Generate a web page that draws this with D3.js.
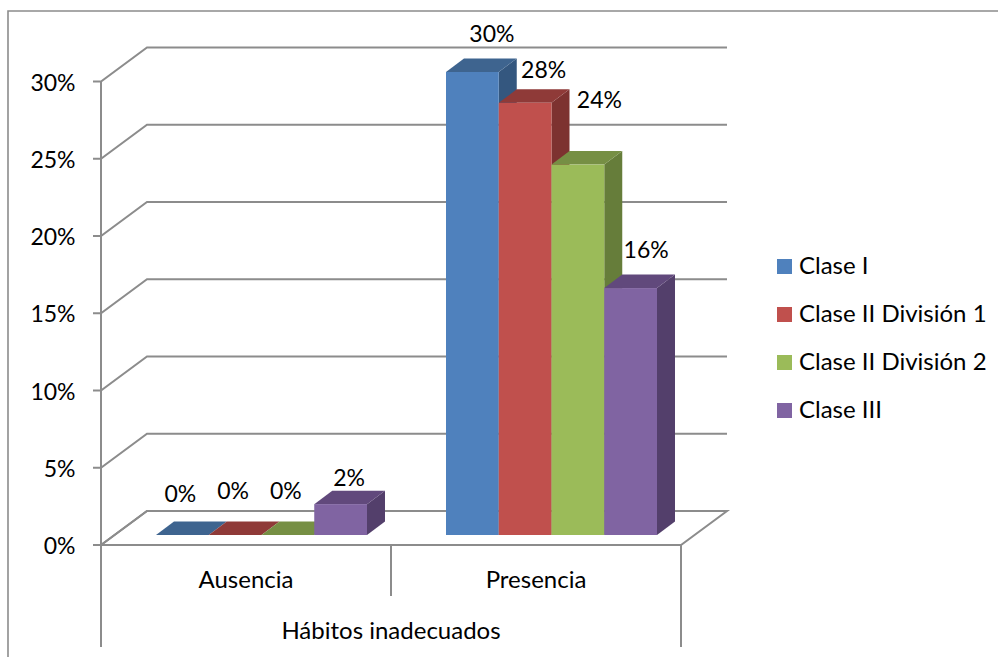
<!DOCTYPE html>
<html><head><meta charset="utf-8">
<script src="https://cdn.jsdelivr.net/npm/d3@7"></script>
<style>html,body{margin:0;padding:0;background:#fff}svg{display:block}text{font-family:Lato,"Open Sans",sans-serif;fill:#000}</style>
</head><body><div id="c"></div>
<script>
const categories = ["Ausencia","Presencia"];
const seriesNames = ["Clase I","Clase II División 1","Clase II División 2","Clase III"];
const claseI = [0,30];
const claseIID1 = [0,28];
const claseIID2 = [0,24];
const claseIII = [2,16];
const seriesValues = [claseI,claseIID1,claseIID2,claseIII];
const yTicks = [0,5,10,15,20,25,30];
const axisTitle = "Hábitos inadecuados";
const frontColors = ["#4f81bd","#c0504d","#9bbb59","#8064a2"];
const topColors = ["#3e648f","#8f3a38","#768f44","#61497c"];
const sideColors = ["#34577f","#7d3230","#667d3a","#533f6b"];

const W=998,H=657, grid="#8c8c8c", fsWord=24, fsNum=23;
const svg=d3.select("#c").append("svg").attr("width",W).attr("height",H);
// frame: open on the right and at the bottom
svg.append("path").attr("d",`M8,${H}V11H${W}`).attr("fill","none").attr("stroke",grid).attr("stroke-width",1.6);

const dx=46, dy=-34;             // chart depth
const y=d3.scaleLinear().domain([0,30]).range([545,81.5]);
const x0=d3.scaleBand().domain(categories).range([101,681]);
const plot=svg.append("g");
plot.append("path").attr("d",`M${x0.range()[0]},${y(0)}l${dx},${dy}H${x0.range()[1]+dx}l${-dx},${-dy}Z`)
  .attr("fill","#fff").attr("stroke",grid).attr("stroke-width",2);
yTicks.forEach(t=>{
  const yy=y(t);
  plot.append("path").attr("d",`M93,${yy}H101l${dx},${dy}H${x0.range()[1]+dx}`)
    .attr("fill","none").attr("stroke",grid).attr("stroke-width",2);
  svg.append("text").attr("x",75.5).attr("y",yy+9).attr("text-anchor","end")
     .attr("font-size",fsNum).text(t+"%");
});
plot.append("line").attr("x1",101).attr("x2",101).attr("y1",y(30)).attr("y2",647).attr("stroke",grid).attr("stroke-width",2);
plot.append("line").attr("x1",x0("Presencia")).attr("x2",x0("Presencia")).attr("y1",y(0)).attr("y2",596).attr("stroke",grid).attr("stroke-width",2);
plot.append("line").attr("x1",681).attr("x2",681).attr("y1",y(0)).attr("y2",647).attr("stroke",grid).attr("stroke-width",2);
categories.forEach(c=>svg.append("text").attr("x",x0(c)+x0.bandwidth()/2).attr("y",588).attr("text-anchor","middle").attr("font-size",fsWord).text(c));
svg.append("text").attr("x",391).attr("y",639).attr("text-anchor","middle").attr("font-size",fsWord).text(axisTitle);

// bars
const bh=d3.scaleLinear().domain([0,30]).range([535,72]);
const xs=d3.scaleBand().domain(seriesNames).range([0,211]);
const bdx=18,bdy=-13.5;
// per-label placement relative to the bar's top centre [x, y], by category then series
const labelNudge=[[[-20,-19.5],[-20,-22.5],[-20,-22.5],[-9.5,-4.5]],[[1.5,-16.5],[0.5,-11],[3.5,-43],[-2.5,-17]]];
categories.forEach((c,ci)=>{
  const start=x0(c)+55;
  seriesNames.forEach((s,si)=>{
    const v=seriesValues[si][ci], xl=start+xs(s), w=xs.bandwidth(), t=bh(v), b=bh(0);
    const g=plot.append("g");
    g.append("path").attr("d",`M${xl+w},${t}l${bdx},${bdy}V${b+bdy}l${-bdx},${-bdy}Z`).attr("fill",sideColors[si]);
    g.append("path").attr("d",`M${xl},${t}l${bdx},${bdy}h${w}l${-bdx},${-bdy}Z`).attr("fill",topColors[si]);
    g.append("rect").attr("x",xl).attr("y",t).attr("width",w).attr("height",b-t).attr("fill",frontColors[si]);
    const n=labelNudge[ci][si];
    svg.append("text").attr("x",xl+w/2+bdx+n[0]).attr("y",t+bdy+n[1])
      .attr("text-anchor","middle").attr("font-size",fsNum).text(v+"%");
  });
});
// legend
seriesNames.forEach((s,i)=>{
  const ly=266.5+48*i;
  svg.append("rect").attr("x",777).attr("y",ly-7.5).attr("width",15).attr("height",15).attr("fill",frontColors[i]);
  svg.append("text").attr("x",799).attr("y",ly+7.5).attr("font-size",fsWord).text(s);
});
</script></body></html>
